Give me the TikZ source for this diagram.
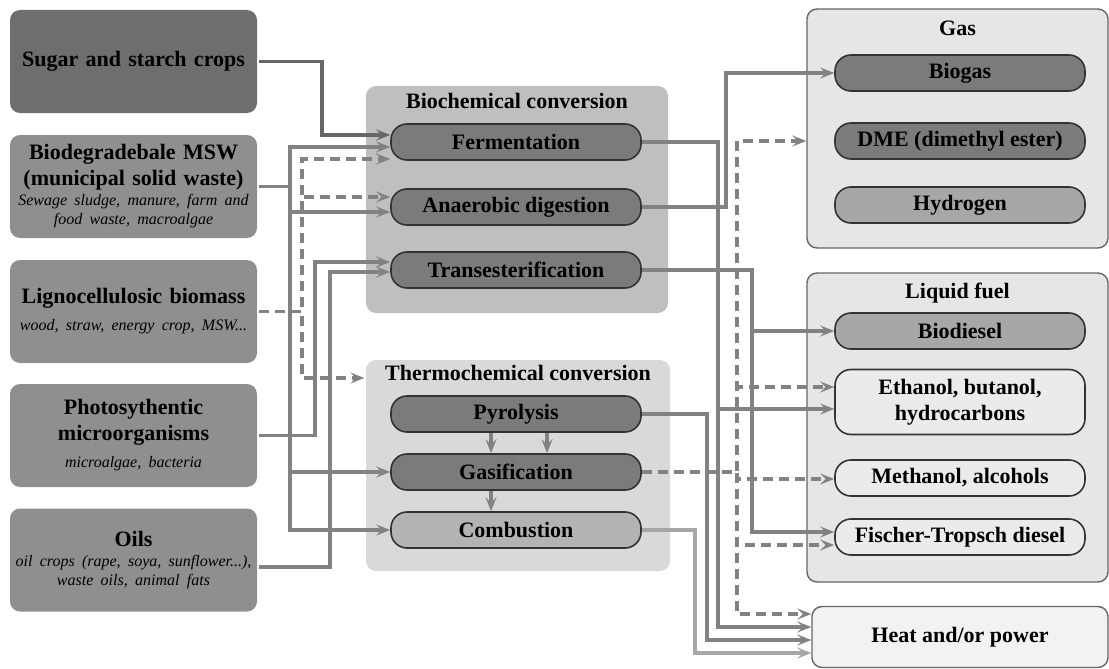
\documentclass[tikz,border=0pt]{standalone}
\usepackage{fontspec}
\setmainfont{Liberation Serif}
\usetikzlibrary{arrows.meta}
\definecolor{sugargray}{HTML}{6E6E6E}
\definecolor{srcgray}{HTML}{8F8F8F}
\definecolor{biogray}{HTML}{BFBFBF}
\definecolor{thermgray}{HTML}{D9D9D9}
\definecolor{darkproc}{HTML}{7B7B7B}
\definecolor{midproc}{HTML}{B3B3B3}
\definecolor{paleproc}{HTML}{A7A7A7}
\definecolor{lightproc}{HTML}{EBEBEB}
\definecolor{outgray}{HTML}{E6E6E6}
\definecolor{heatgray}{HTML}{F2F2F2}
\definecolor{linkgray}{HTML}{828282}
\definecolor{linkdark}{HTML}{666666}
\definecolor{linklight}{HTML}{A6A6A6}
\newcommand\lblfont{\fontsize{22}{26}\selectfont\bfseries}
\newcommand\notefont{\fontsize{16}{19}\selectfont\mdseries\itshape}
\tikzset{
    > = {Stealth[length=14pt,width=11pt,inset=5.5pt]}
}

\begin{document}
\begin{tikzpicture}[x=1pt, y=-1pt, line width=3.3pt]
        \tikzstyle{src}=[fill=srcgray, rounded corners=10pt, minimum width=247pt, minimum height=103pt, text width=247pt, inner sep=0pt, align=center, font=\lblfont]
        \tikzstyle{grp}=[rounded corners=10pt, inner sep=0pt]
        \tikzstyle{outgrp}=[grp, fill=outgray, draw=black!60, line width=1.4pt]
        \tikzstyle{proc}=[draw=black!80, line width=1.6pt, rounded corners=16pt, minimum width=250pt, minimum height=36pt, inner sep=0pt, align=center, font=\lblfont]
        \tikzstyle{link}=[draw=linkgray, ->]
        \tikzstyle{dlink}=[link, dash pattern=on 10pt off 6pt]
        \useasboundingbox (0,0) rectangle (1109,669);
        \node[src, fill=sugargray] (sugar) at (133.5,61.5) {Sugar and starch crops};
        \node[src] (msw) at (133.5,186.5) {Biodegradebale MSW\\(municipal solid waste)\\[1pt]{\notefont Sewage sludge, manure, farm and\\[-7pt]food waste, macroalgae}};
        \node[src] (ligno) at (133.5,311.5) {Lignocellulosic biomass\\[1pt]{\notefont wood, straw, energy crop, MSW...}};
        \node[src] (photo) at (133.5,435.5) {Photosythentic\\microorganisms\\[1pt]{\notefont microalgae, bacteria}};
        \node[src] (oils) at (133.5,560) {Oils\\[1pt]{\notefont oil crops (rape, soya, sunflower...),\\[-7pt]waste oils, animal fats}};
        \node[grp, fill=biogray, minimum width=302pt, minimum height=227pt, label={[anchor=north, yshift=-4pt, font=\lblfont]north:Biochemical conversion}] (biochem) at (517,199.5) {};
        \node[grp, fill=thermgray, minimum width=304pt, minimum height=211pt, label={[anchor=north, yshift=-2pt, font=\lblfont]north:Thermochemical conversion}] (thermo) at (518,465.5) {};
        \node[proc, fill=darkproc] (ferm) at (516,142) {Fermentation};
        \node[proc, fill=darkproc] (anaer) at (516,207) {Anaerobic digestion};
        \node[proc, fill=darkproc] (trans) at (516,270) {Transesterification};
        \node[proc, fill=darkproc] (pyro) at (516,414) {Pyrolysis};
        \node[proc, fill=darkproc] (gasif) at (516,472) {Gasification};
        \node[proc, fill=midproc] (comb) at (516,530) {Combustion};
        \node[outgrp, minimum width=301pt, minimum height=239pt, label={[anchor=north, yshift=-8pt, font=\lblfont]north:Gas}] (gas) at (957.5,128.5) {};
        \node[outgrp, minimum width=301pt, minimum height=309pt, label={[anchor=north, yshift=-6pt, font=\lblfont]north:Liquid fuel}] (liquid) at (957.5,427.5) {};
        \node[proc, fill=darkproc] (biogas) at (960,73) {Biogas};
        \node[proc, fill=darkproc] (dme) at (960,141) {DME (dimethyl ester)};
        \node[proc, fill=paleproc] (hydro) at (960,205) {Hydrogen};
        \node[proc, fill=paleproc] (biodsl) at (960,331) {Biodiesel};
        \node[proc, fill=lightproc, minimum height=65pt] (ethanol) at (960,402) {Ethanol, butanol,\\hydrocarbons};
        \node[proc, fill=lightproc] (methanol) at (960,478) {Methanol, alcohols};
        \node[proc, fill=lightproc] (ftdsl) at (960,537) {Fischer-Tropsch diesel};
        \node[outgrp, fill=heatgray, minimum width=296pt, minimum height=61pt, font=\lblfont] (heat) at (960,637) {Heat and/or power};
        \draw[link, draw=linkdark] (sugar.east) -| (322,135) -- ([yshift=7pt]ferm.west);
        \draw[link] (msw.east) -| (290,147) -- ([yshift=-5pt]ferm.west);
        \draw[link] (msw.east) -| (290,212) -- ([yshift=-5pt]anaer.west);
        \draw[link] (msw.east) -| (290,472) -- (gasif.west);
        \draw[link] (msw.east) -| (290,530) -- (comb.west);
        \draw[dlink] (ligno.east) -| (302,159) -- ([yshift=-17pt]ferm.west);
        \draw[dlink] (ligno.east) -| (302,197) -- ([yshift=10pt]anaer.west);
        \draw[dlink] (ligno.east) -| (302,378) -- ([yshift=87.5pt]thermo.west);
        \draw[link] (photo.east) -| (315,262) -- ([yshift=8pt]trans.west);
        \draw[link] ([yshift=-7pt]oils.east) -| (330,272) -- ([yshift=-2pt]trans.west);
        \draw[link] ([xshift=-25pt]pyro.south) -- ([xshift=-25pt]gasif.north);
        \draw[link] ([xshift=31pt]pyro.south) -- ([xshift=31pt]gasif.north);
        \draw[link] ([xshift=-25pt]gasif.south) -- ([xshift=-25pt]comb.north);
        \draw[link] (ferm.east) -| (718,409) -- ([yshift=-7pt]ethanol.west);
        \draw[link] (ferm.east) -| (718,627) -- ([yshift=10pt]heat.west);
        \draw[link] (anaer.east) -| (726,73) -- (biogas.west);
        \draw[link] (trans.east) -| (752,331) -- (biodsl.west);
        \draw[link] (trans.east) -| (752,532) -- ([yshift=5pt]ftdsl.west);
        \draw[link] (pyro.east) -| (707,640) -- ([yshift=-3pt]heat.west);
        \draw[dlink] (gasif.east) -| (737,141) -- ([yshift=-12.5pt]gas.west);
        \draw[dlink] (gasif.east) -| (737,387) -- ([yshift=15pt]ethanol.west);
        \draw[dlink] (gasif.east) -| (737,479) -- ([yshift=-1pt]methanol.west);
        \draw[dlink] (gasif.east) -| (737,545) -- ([yshift=-8pt]ftdsl.west);
        \draw[dlink] (gasif.east) -| (737,614) -- ([yshift=23pt]heat.west);
        \draw[link, draw=linklight] (comb.east) -| (695,653) -- ([yshift=-16pt]heat.west);
    \end{tikzpicture}
\end{document}
